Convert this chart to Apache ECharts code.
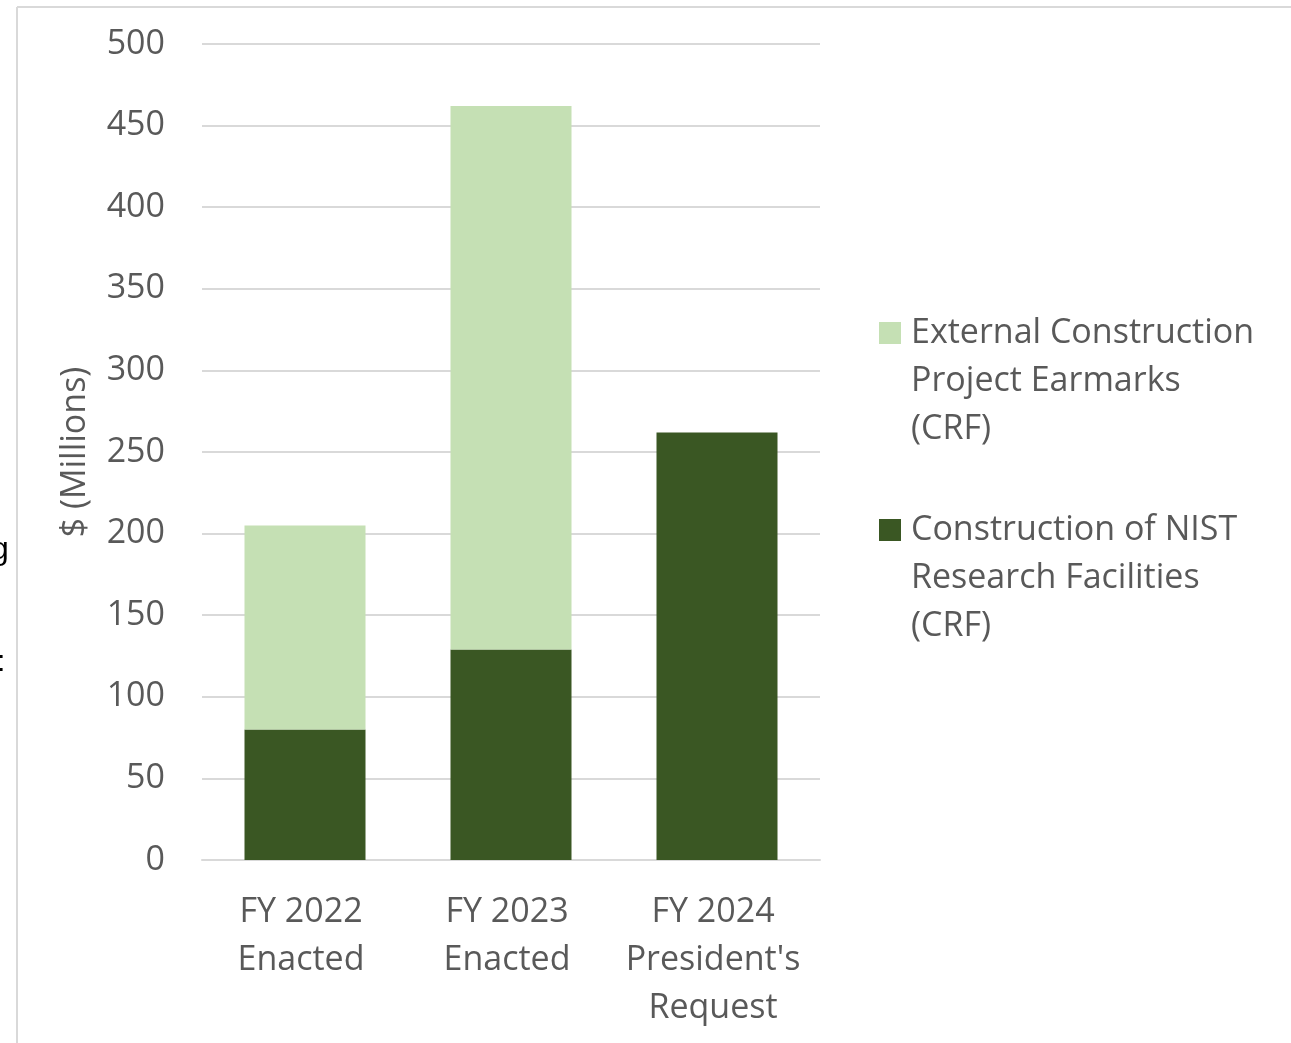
<!DOCTYPE html>
<html>
<head>
<meta charset="utf-8" />
<style type="text/css">
html, body {margin: 0; padding: 0; background-color: #fff}
</style>
</head>
<body>
<div id="main" style="width:1291px;height:1043px;"></div>
<script src="https://cdn.jsdelivr.net/npm/echarts@6/dist/echarts.min.js"></script>
<script type="text/javascript">

var categories = ['FY 2022\nEnacted', 'FY 2023\nEnacted', 'FY 2024\nPresident\'s\nRequest'];
var nistFacilities = [80, 129, 262];
var externalEarmarks = [125, 333, 0];
var seriesNames = ['Construction of NIST\nResearch Facilities\n(CRF)', 'External Construction\nProject Earmarks\n(CRF)'];
var colors = ['#3a5723', '#c5e0b4'];

var font = '"Open Sans", "Noto Sans", sans-serif';
var grey = '#595959';
var fs = 34;
var myChart = echarts.init(document.getElementById('main'));

function legendFor(name, top) {
    return {
        data: [name],
        orient: 'vertical',
        left: 874,
        top: top,
        itemWidth: 22,
        itemHeight: 22,
        icon: 'rect',
        selectedMode: false,
        textStyle: {
            color: grey,
            fontFamily: font,
            fontSize: fs,
            lineHeight: 48,
            padding: [0, 0, 0, 5]
        },
        // two empty lines first so the icon sits on the first text line
        formatter: function (n) { return '\n\n' + n; }
    };
}

option = {
    animation: false,
    grid: {left: 202, right: 471, top: 44, bottom: 183},
    legend: [
        legendFor(seriesNames[1], 208),
        legendFor(seriesNames[0], 405)
    ],
    xAxis: {
        type: 'category',
        data: categories,
        axisLine: {lineStyle: {color: '#d9d9d9', width: 2}},
        axisTick: {show: false},
        axisLabel: {
            color: grey,
            fontFamily: font,
            fontSize: fs,
            lineHeight: 48,
            margin: 28,
            padding: [0, 8, 0, 0],
            interval: 0
        }
    },
    yAxis: {
        type: 'value',
        min: 0,
        max: 500,
        interval: 50,
        name: '$ (Millions)',
        nameLocation: 'middle',
        nameRotate: 90,
        nameGap: 110,
        nameTextStyle: {color: grey, fontFamily: font, fontSize: fs},
        axisLine: {show: false},
        axisTick: {show: false},
        axisLabel: {color: grey, fontFamily: font, fontSize: fs, margin: 37, padding: [4, 0, 0, 0]},
        splitLine: {lineStyle: {color: '#d9d9d9', width: 2}}
    },
    graphic: [
        {type: 'line', shape: {x1: 17, y1: 7, x2: 1291, y2: 7}, style: {stroke: '#d9d9d9', lineWidth: 2}},
        {type: 'line', shape: {x1: 17, y1: 7, x2: 17, y2: 1043}, style: {stroke: '#d9d9d9', lineWidth: 2}},
        {type: 'text', left: -9, top: 534, style: {text: 'g', fill: '#000', font: '32px "Liberation Sans"'}},
        {type: 'text', left: -3, top: 648, style: {text: ':', fill: '#000', font: '30px "Liberation Sans"'}}
    ],
    series: [{
        name: seriesNames[0],
        type: 'bar',
        stack: 'crf',
        barWidth: 121,
        data: nistFacilities,
        itemStyle: {color: colors[0]}
    }, {
        name: seriesNames[1],
        type: 'bar',
        stack: 'crf',
        barWidth: 121,
        data: externalEarmarks,
        itemStyle: {color: colors[1]}
    }]
};

myChart.setOption(option);
</script>
</body>
</html>
